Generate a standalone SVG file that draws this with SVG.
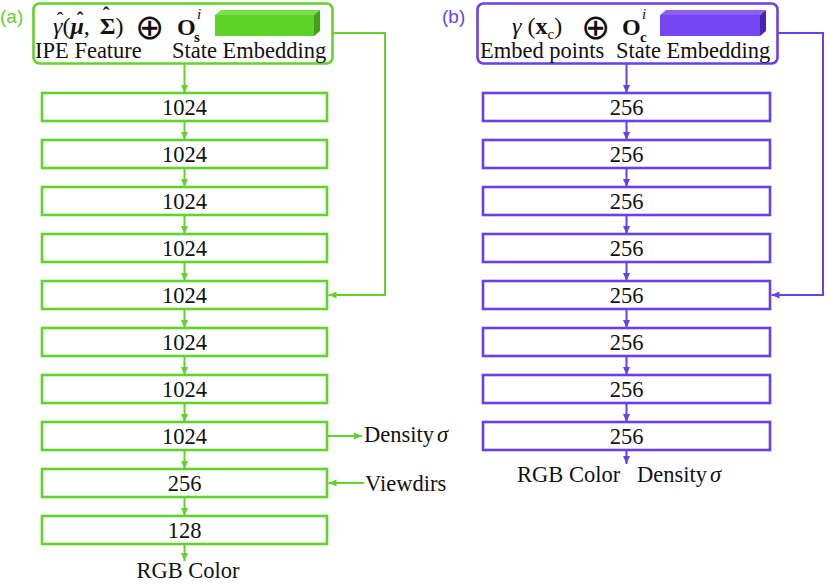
<svg xmlns="http://www.w3.org/2000/svg" width="830" height="588" viewBox="0 0 830 588">
<defs>
<marker id="ag" markerWidth="8" markerHeight="8" refX="8" refY="4" orient="auto" markerUnits="userSpaceOnUse"><path d="M0,0.5 L8,4 L0,7.5 z" fill="#62d22c"/></marker>
<marker id="ap" markerWidth="8" markerHeight="8" refX="8" refY="4" orient="auto" markerUnits="userSpaceOnUse"><path d="M0,0.5 L8,4 L0,7.5 z" fill="#6b3fe6"/></marker>
<style>
.t{font-family:"Liberation Serif","DejaVu Serif",serif;font-size:22.5px;fill:#111;}
.c{text-anchor:middle;}
.bg{fill:#fff;stroke:#62d22c;stroke-width:2.6;}
.bp{fill:#fff;stroke:#6b3fe6;stroke-width:2.6;}
.lg{fill:none;stroke:#62d22c;stroke-width:2;}
.lp{fill:none;stroke:#6b3fe6;stroke-width:2;}
.m{font-family:"Liberation Serif","DejaVu Serif",serif;font-size:24px;fill:#111;}
.h{font-family:"Liberation Serif","DejaVu Serif",serif;font-size:20px;fill:#111;text-anchor:middle;}
.s{font-family:"Liberation Serif","DejaVu Serif",serif;font-size:15px;fill:#111;}
.op{font-family:"DejaVu Sans",sans-serif;font-size:35px;fill:#111;}
</style>
</defs>
<rect width="830" height="588" fill="#fff"/>

<!-- connectors -->
<g id="connectors">
<line class="lg" x1="184.5" y1="63" x2="184.5" y2="93" marker-end="url(#ag)"/>
<line class="lg" x1="184.5" y1="121" x2="184.5" y2="140" marker-end="url(#ag)"/>
<line class="lg" x1="184.5" y1="168" x2="184.5" y2="187" marker-end="url(#ag)"/>
<line class="lg" x1="184.5" y1="215" x2="184.5" y2="234" marker-end="url(#ag)"/>
<line class="lg" x1="184.5" y1="262" x2="184.5" y2="281" marker-end="url(#ag)"/>
<line class="lg" x1="184.5" y1="309" x2="184.5" y2="328" marker-end="url(#ag)"/>
<line class="lg" x1="184.5" y1="356" x2="184.5" y2="375" marker-end="url(#ag)"/>
<line class="lg" x1="184.5" y1="403" x2="184.5" y2="422" marker-end="url(#ag)"/>
<line class="lg" x1="184.5" y1="450" x2="184.5" y2="469" marker-end="url(#ag)"/>
<line class="lg" x1="184.5" y1="497" x2="184.5" y2="516" marker-end="url(#ag)"/>
<line class="lg" x1="184.5" y1="544" x2="184.5" y2="561" marker-end="url(#ag)"/>
<path class="lg" d="M333,33 H385 V295 H328.5" marker-end="url(#ag)"/>
<line class="lg" x1="328" y1="436" x2="362" y2="436" marker-end="url(#ag)"/>
<line class="lg" x1="364" y1="483" x2="328.5" y2="483" marker-end="url(#ag)"/>

<line class="lp" x1="626.5" y1="63" x2="626.5" y2="93" marker-end="url(#ap)"/>
<line class="lp" x1="626.5" y1="121" x2="626.5" y2="140" marker-end="url(#ap)"/>
<line class="lp" x1="626.5" y1="168" x2="626.5" y2="187" marker-end="url(#ap)"/>
<line class="lp" x1="626.5" y1="215" x2="626.5" y2="234" marker-end="url(#ap)"/>
<line class="lp" x1="626.5" y1="262" x2="626.5" y2="281" marker-end="url(#ap)"/>
<line class="lp" x1="626.5" y1="309" x2="626.5" y2="328" marker-end="url(#ap)"/>
<line class="lp" x1="626.5" y1="356" x2="626.5" y2="375" marker-end="url(#ap)"/>
<line class="lp" x1="626.5" y1="403" x2="626.5" y2="422" marker-end="url(#ap)"/>
<line class="lp" x1="626.5" y1="450" x2="626.5" y2="464" marker-end="url(#ap)"/>
<path class="lp" d="M778,33 H823 V295 H771.5" marker-end="url(#ap)"/>
</g>

<!-- (a) -->
<text x="0" y="23" style="font-family:'Liberation Sans',sans-serif;font-size:19px;fill:#62d22c">(a)</text>
<g id="a-input">
<rect class="bg" x="33.5" y="3.5" width="299" height="60" rx="6"/>
<text class="m" x="53" y="34"><tspan font-style="italic">γ</tspan>(<tspan font-weight="bold" font-style="italic">μ</tspan>, <tspan font-weight="bold" dx="4">Σ</tspan>)</text>
<text class="h" x="60" y="27">ˆ</text>
<text class="h" x="80" y="27" font-weight="bold">ˆ</text>
<text class="h" x="106" y="22" font-weight="bold">ˆ</text>
<text class="op" x="135" y="39">⊕</text>
<text class="m" x="177" y="35" font-weight="bold">O</text>
<text class="s" x="194" y="42" font-weight="bold">s</text>
<text class="s" x="197" y="19" font-style="italic">i</text>
<polygon points="215,15 221,10 320,10 314,15" fill="#79e04a"/>
<rect x="215" y="15" width="99" height="21" fill="#5dd32a"/>
<polygon points="314,15 320,10 320,31 314,36" fill="#42a01c"/>
<text class="t" x="35" y="58">IPE Feature</text>
<text class="t" x="172" y="58">State Embedding</text>
</g>
<g id="a-l1"><rect class="bg" x="42" y="93" width="285" height="28"/><text class="t c" x="184.5" y="114.5">1024</text></g>
<g id="a-l2"><rect class="bg" x="42" y="140" width="285" height="28"/><text class="t c" x="184.5" y="161.5">1024</text></g>
<g id="a-l3"><rect class="bg" x="42" y="187" width="285" height="28"/><text class="t c" x="184.5" y="208.5">1024</text></g>
<g id="a-l4"><rect class="bg" x="42" y="234" width="285" height="28"/><text class="t c" x="184.5" y="255.5">1024</text></g>
<g id="a-l5"><rect class="bg" x="42" y="281" width="285" height="28"/><text class="t c" x="184.5" y="302.5">1024</text></g>
<g id="a-l6"><rect class="bg" x="42" y="328" width="285" height="28"/><text class="t c" x="184.5" y="349.5">1024</text></g>
<g id="a-l7"><rect class="bg" x="42" y="375" width="285" height="28"/><text class="t c" x="184.5" y="396.5">1024</text></g>
<g id="a-l8"><rect class="bg" x="42" y="422" width="285" height="28"/><text class="t c" x="184.5" y="443.5">1024</text></g>
<g id="a-l9"><rect class="bg" x="42" y="469" width="285" height="28"/><text class="t c" x="184.5" y="490.5">256</text></g>
<g id="a-l10"><rect class="bg" x="42" y="516" width="285" height="28"/><text class="t c" x="184.5" y="537.5">128</text></g>
<g id="a-density"><text class="t" x="364" y="442">Density<tspan font-style="italic" dx="3">σ</tspan></text></g>
<g id="a-viewdirs"><text class="t" x="365" y="491">Viewdirs</text></g>
<g id="a-rgb"><text class="t c" x="188" y="578">RGB Color</text></g>

<!-- (b) -->
<text x="442" y="23" style="font-family:'Liberation Sans',sans-serif;font-size:19px;fill:#6b3fe6">(b)</text>
<g id="b-input">
<rect class="bp" x="477.5" y="3.5" width="300" height="60" rx="6"/>
<text class="m" x="512" y="34"><tspan font-style="italic">γ</tspan> (<tspan font-weight="bold">x</tspan><tspan font-size="15" dy="5">c</tspan><tspan dy="-5">)</tspan></text>
<text class="op" x="581" y="39">⊕</text>
<text class="m" x="622" y="35" font-weight="bold">O</text>
<text class="s" x="640" y="42" font-weight="bold">c</text>
<text class="s" x="642" y="19" font-style="italic">i</text>
<polygon points="660,15 666,10 766,10 760,15" fill="#8b5ef8"/>
<rect x="660" y="15" width="100" height="21" fill="#7447f2"/>
<polygon points="760,15 766,10 766,31 760,36" fill="#4a24b0"/>
<text class="t" x="480" y="58">Embed points</text>
<text class="t" x="616" y="58">State Embedding</text>
</g>
<g id="b-l1"><rect class="bp" x="483" y="93" width="287" height="28"/><text class="t c" x="626.5" y="114.5">256</text></g>
<g id="b-l2"><rect class="bp" x="483" y="140" width="287" height="28"/><text class="t c" x="626.5" y="161.5">256</text></g>
<g id="b-l3"><rect class="bp" x="483" y="187" width="287" height="28"/><text class="t c" x="626.5" y="208.5">256</text></g>
<g id="b-l4"><rect class="bp" x="483" y="234" width="287" height="28"/><text class="t c" x="626.5" y="255.5">256</text></g>
<g id="b-l5"><rect class="bp" x="483" y="281" width="287" height="28"/><text class="t c" x="626.5" y="302.5">256</text></g>
<g id="b-l6"><rect class="bp" x="483" y="328" width="287" height="28"/><text class="t c" x="626.5" y="349.5">256</text></g>
<g id="b-l7"><rect class="bp" x="483" y="375" width="287" height="28"/><text class="t c" x="626.5" y="396.5">256</text></g>
<g id="b-l8"><rect class="bp" x="483" y="422" width="287" height="28"/><text class="t c" x="626.5" y="443.5">256</text></g>
<g id="b-out"><text class="t" x="517" y="482">RGB Color</text><text class="t" x="637" y="482">Density<tspan font-style="italic" dx="3">σ</tspan></text></g>
</svg>
